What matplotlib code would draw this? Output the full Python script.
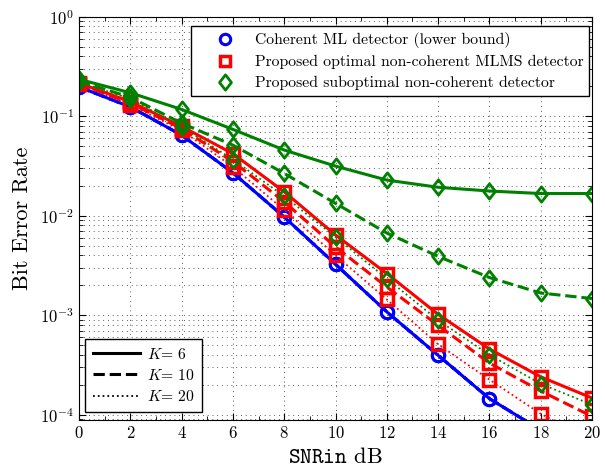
import numpy as np
import matplotlib
matplotlib.use('Agg')
import matplotlib.pyplot as plt
from matplotlib.lines import Line2D
from matplotlib.path import Path
from matplotlib.ticker import LogLocator, MultipleLocator, NullFormatter

plt.rcParams['font.family'] = 'serif'
plt.rcParams['font.serif'] = ['cmr10']
plt.rcParams['mathtext.fontset'] = 'cm'
plt.rcParams['axes.formatter.use_mathtext'] = True
plt.rcParams['axes.unicode_minus'] = False

# --- Data ---
snr_db = [0, 2, 4, 6, 8, 10, 12, 14, 16, 18, 20]

# coherent ML detector (same for every K)
ber_coherent = [0.197, 0.124, 0.0645, 0.027, 0.0097, 0.00325, 0.00108, 3.95e-4, 1.45e-4, 7.0e-5, 3.0e-5]

# proposed optimal non-coherent MLMS detector
ber_mlms_k6 = [0.215, 0.14, 0.079, 0.042, 0.0174, 0.0064, 0.00262, 0.00102, 4.57e-4, 2.4e-4, 1.47e-4]
ber_mlms_k10 = [0.212, 0.135, 0.075, 0.035, 0.0138, 0.00485, 0.00192, 7.9e-4, 3.3e-4, 1.73e-4, 9.6e-5]
ber_mlms_k20 = [0.21, 0.13, 0.072, 0.031, 0.0114, 0.0040, 0.00144, 5.1e-4, 2.25e-4, 1.02e-4, 5.5e-5]

# proposed suboptimal non-coherent detector
ber_sub_k6 = [0.235, 0.172, 0.117, 0.0737, 0.0457, 0.0315, 0.0228, 0.0193, 0.0177, 0.0167, 0.0167]
ber_sub_k10 = [0.225, 0.155, 0.085, 0.0512, 0.0266, 0.0133, 0.0067, 0.0039, 0.00239, 0.00167, 0.00147]
ber_sub_k20 = [0.22, 0.15, 0.078, 0.0367, 0.0157, 0.0061, 0.00233, 8.9e-4, 4.0e-4, 2.04e-4, 1.26e-4]

k_values = [6, 10, 20]
k_styles = ['-', '--', ':']
k_widths = [2.2, 2.2, 1.3]

# matlab-like diamond (a bit taller than wide)
diamond = Path([(0, 1), (0.78, 0), (0, -1), (-0.78, 0), (0, 1)],
               [Path.MOVETO, Path.LINETO, Path.LINETO, Path.LINETO, Path.CLOSEPOLY])

# --- Plot ---
fig = plt.figure(figsize=(6.05, 4.67), dpi=100)
ax = fig.add_axes([0.1306, 0.1013, 0.8479, 0.8629])

circ = dict(marker='o', markersize=9, markeredgewidth=2, markerfacecolor='none')
sq = dict(marker='s', markersize=8, markeredgewidth=2.5, markerfacecolor='none')
dia = dict(marker=diamond, markersize=11, markeredgewidth=2, markerfacecolor='none')

for ls in k_styles:
    ax.plot(snr_db, ber_coherent, color='blue', linestyle=ls, linewidth=2.2, **circ)

for ber, ls, lw in zip([ber_mlms_k6, ber_mlms_k10, ber_mlms_k20], k_styles, k_widths):
    ax.plot(snr_db, ber, color='red', linestyle=ls, linewidth=lw, **sq)

for ber, ls, lw in zip([ber_sub_k6, ber_sub_k10, ber_sub_k20], k_styles, k_widths):
    ax.plot(snr_db, ber, color='green', linestyle=ls, linewidth=lw, **dia)

ax.set_yscale('log')
ax.set_xlim(0, 20)
ax.set_ylim(8.9e-5, 1)
ax.xaxis.set_major_locator(MultipleLocator(2))
ax.xaxis.set_minor_locator(MultipleLocator(1))
ax.yaxis.set_major_locator(LogLocator(base=10, numticks=10))
ax.yaxis.set_minor_locator(LogLocator(base=10, subs=np.arange(2, 10), numticks=20))
ax.yaxis.set_minor_formatter(NullFormatter())
ax.tick_params(which='both', direction='in', top=True, right=True, labelsize=12)
ax.tick_params(which='major', length=5)
ax.tick_params(which='minor', length=3)

grid_kw = dict(linestyle=(0, (1, 4.7)), color='0.15', linewidth=0.6)
ax.grid(True, which='major', axis='both', **grid_kw)
ax.grid(True, which='minor', axis='y', **grid_kw)

ax.set_xlabel(r'$\mathtt{SNRin}$ dB', fontsize=16, labelpad=5)
ax.set_ylabel('Bit Error Rate', fontsize=16, labelpad=6)

# legend for detectors (markers only)
det_handles = [
    Line2D([], [], color='blue', linestyle='none', marker='o', markersize=7.5,
           markeredgewidth=2.2, markerfacecolor='none'),
    Line2D([], [], color='red', linestyle='none', marker='s', markersize=7,
           markeredgewidth=2.5, markerfacecolor='none'),
    Line2D([], [], color='green', linestyle='none', marker=diamond, markersize=11,
           markeredgewidth=2, markerfacecolor='none'),
]
det_labels = ['Coherent ML detector (lower bound)',
              'Proposed optimal non-coherent MLMS detector',
              'Proposed suboptimal non-coherent detector']
leg1 = ax.legend(det_handles, det_labels, loc='upper right', bbox_to_anchor=(0.995, 0.977),
                 borderaxespad=0, fontsize=11.3, fancybox=False, framealpha=1,
                 edgecolor='black', handlelength=3.5, handletextpad=0.15,
                 labelspacing=0.43, borderpad=0.4)
leg1.get_frame().set_linewidth(1.0)
ax.add_artist(leg1)

# legend for K
k_handles = [Line2D([], [], color='black', linestyle=ls, linewidth=lw)
             for ls, lw in zip(k_styles, k_widths)]
k_labels = [r'$K$= %d' % k for k in k_values]
leg2 = ax.legend(k_handles, k_labels, loc='lower left', bbox_to_anchor=(0.012, 0.019),
                 borderaxespad=0, fontsize=11.3, fancybox=False, framealpha=1,
                 edgecolor='black', handlelength=3.0, handletextpad=0.42,
                 labelspacing=0.4, borderpad=0.5)
leg2.get_frame().set_linewidth(1.0)

fig.savefig('out.png', dpi=100)
